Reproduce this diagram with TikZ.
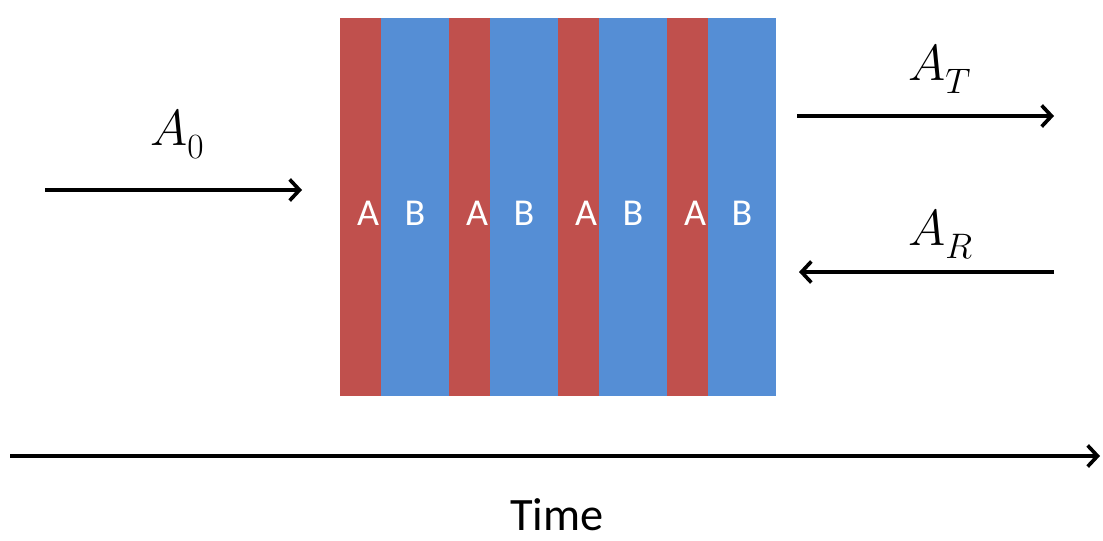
\documentclass[tikz,border=0pt]{standalone}
\usepackage{fix-cm}
\usepackage{fontspec}
\setmainfont{Carlito}
\usetikzlibrary{arrows.meta}
\definecolor{layerA}{RGB}{192,80,77}
\definecolor{layerB}{RGB}{85,142,213}

\begin{document}
\begin{tikzpicture}[x=0.025cm,y=-0.025cm,
  stripeA/.style={fill=layerA, minimum width=1.025cm, minimum height=9.45cm, inner sep=0pt, anchor=north west},
  stripeB/.style={fill=layerB, minimum width=1.7cm, minimum height=9.45cm, inner sep=0pt, anchor=north west},
  letter/.style={text=white, font=\fontsize{27}{30}\selectfont},
  wave/.style={line width=2.6pt, -{Straight Barb[length=7pt,width=15pt,line width=2.6pt]}},
  amp/.style={font=\fontsize{36}{40}\selectfont, inner sep=0pt}]
\useasboundingbox (0,0) rectangle (1103,540);
% layered stack
\foreach \i/\x in {1/340,2/449,3/558,4/667} {
  \node[stripeA] (A\i) at (\x,18) {};
  \node[stripeB] (B\i) at (\x+41,18) {};
  \node[letter] (a\i) at (\x+28,213) {A};
  \node[letter] (b\i) at (\x+75,213) {B};
}
% incident, transmitted, reflected
\coordinate (in0) at (45,190);
\coordinate (in1) at (302,190);
\coordinate (tr0) at (797,116);
\coordinate (tr1) at (1054,116);
\coordinate (re0) at (1054,272);
\coordinate (re1) at (799,272);
\draw[wave] (in0) -- (in1);
\draw[wave] (tr0) -- (tr1);
\draw[wave] (re0) -- (re1);
\node[amp, anchor=base west] (A0) at (150,145) {$A_{\lower4pt\hbox{$\scriptstyle 0$}}$};
\node[amp, anchor=base west] (AT) at (908,80) {$A_{\lower4pt\hbox{$\scriptstyle T$}}$};
\node[amp, anchor=base west] (AR) at (908,245) {$A_{\lower4pt\hbox{$\scriptstyle R$}}$};
% time axis
\coordinate (t0) at (10,456);
\coordinate (t1) at (1100,456);
\draw[wave] (t0) -- (t1);
\node[font=\fontsize{33}{36}\selectfont, inner sep=0pt, anchor=base] (time) at (557,530) {Time};
\end{tikzpicture}
\end{document}
